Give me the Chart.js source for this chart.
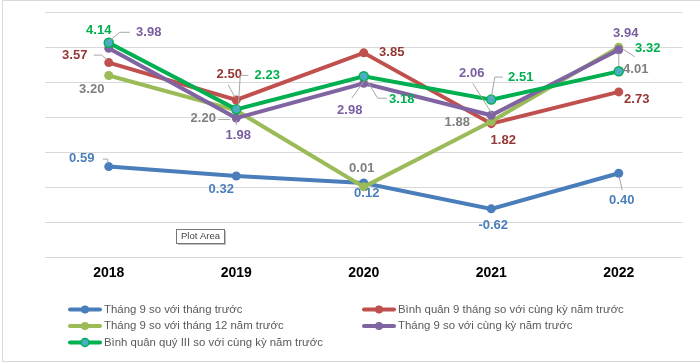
<!DOCTYPE html>
<html>
<head>
<meta charset="utf-8">
<script src="https://cdn.jsdelivr.net/npm/chart.js@4/dist/chart.umd.min.js"></script>
<style>
  html, body { margin: 0; padding: 0; background: #fff; }
</style>
</head>
<body>
<canvas id="cpiChart" width="700" height="363"></canvas>
<script>
// Du lieu
const years = ['2018', '2019', '2020', '2021', '2022'];
const thang9SoThangTruoc = [0.59, 0.32, 0.12, -0.62, 0.40];
const binhQuan9Thang = [3.57, 2.50, 3.85, 1.82, 2.73];
const thang9SoThang12 = [3.20, 2.20, 0.01, 1.88, 4.01];
const thang9SoCungKy = [3.98, 1.98, 2.98, 2.06, 3.94];
const binhQuanQuyIII = [4.14, 2.23, 3.18, 2.51, 3.32];
const yMin = -2, yMax = 5;

const FONT = "'Liberation Sans', Arial, sans-serif";

// vi tri nhan (dx, dy so voi diem) va duong dan
const offBlue = [[-27, -8], [-15, 13], [3, 10], [2, 17], [3, 27]];
const leadBlue = [[[-6, -7.5], [-1, -7.5], [-1, -3]], null, null, null, [[0.5, 4], [3.5, 17]]];
const offRed = [[-34, -7.5], [-7, -26], [28, 0], [12, 16.5], [18, 7]];
const leadRed = [[[-15, -7.5], [-7, -7.5], [-2, -3]], [[-8, -15], [-1, -2]], null, null, null];
const offLight = [[-17, 14], [-33, 8], [-2, -18.5], [-34, 0.5], [17, 22]];
const leadLight = [null, [[-18, 9], [-6, 9]], null, null, [[3, 1], [16, 9.5]]];
const offPurple = [[40, -16], [2, 17], [-14, 27], [-19.5, -42], [7, -16.5]];
const leadPurple = [[[1, -8], [11, -16], [21, -16]], [[0, 2], [0, 7]], [[1, -3], [-12, 15]], [[-18.5, -32], [0.5, -2]], null];
const offGreen = [[-10, -12], [31, -34], [38, 23], [29.5, -22.5], [29, -23]];
const leadGreen = [null, [[12, -34], [4, -34], [2, -2]], [[3, 4], [14, 22], [23, 22]], [[0, -1.5], [3.5, -22.5], [11.5, -22.5]], [[0, -5], [0, -18]]];

function series(label, data, color, labelColor, order, offsets, leaders, pointFill) {
  return {
    label, data,
    borderColor: color,
    backgroundColor: color,
    pointBackgroundColor: pointFill || color,
    pointBorderColor: color,
    pointBorderWidth: pointFill ? 1.5 : 0,
    pointRadius: 4.5,
    pointHoverRadius: 4.5,
    borderWidth: 4,
    tension: 0,
    fill: false,
    order,
    labelColor, labelOffsets: offsets, leaders
  };
}

const datasets = [
  series('Tháng 9 so với tháng trước', thang9SoThangTruoc, '#4a7ebb', '#4a7ebb', 4, offBlue, leadBlue),
  series('Bình quân 9 tháng so với cùng kỳ năm trước', binhQuan9Thang, '#c0504d', '#953735', 3, offRed, leadRed),
  series('Tháng 9 so với tháng 12 năm trước', thang9SoThang12, '#9bbb59', '#7f7f7f', 2, offLight, leadLight),
  series('Tháng 9 so với cùng kỳ năm trước', thang9SoCungKy, '#8064a2', '#7a5ea1', 1, offPurple, leadPurple),
  series('Bình quân quý III so với cùng kỳ năm trước', binhQuanQuyIII, '#00b050', '#00b050', 0, offGreen, leadGreen, '#4bacc6')
];

// khung ngoai
const frame = {
  id: 'frame',
  beforeDraw(chart) {
    const ctx = chart.ctx;
    ctx.save();
    ctx.fillStyle = '#fff';
    ctx.fillRect(0, 0, chart.width, chart.height);
    ctx.strokeStyle = '#d9d9d9';
    ctx.lineWidth = 1;
    ctx.strokeRect(2.5, 0.5, 710, 361);
    ctx.restore();
  }
};

// nhan so lieu
const dataLabels = {
  id: 'dataLabels',
  afterDatasetsDraw(chart) {
    const ctx = chart.ctx;
    ctx.save();
    chart.data.datasets.forEach((ds, i) => {
      const meta = chart.getDatasetMeta(i);
      meta.data.forEach((pt, j) => {
        const lead = ds.leaders[j];
        if (lead) {
          ctx.beginPath();
          ctx.strokeStyle = '#a6a6a6';
          ctx.lineWidth = 1;
          lead.forEach(([lx, ly], k) => {
            if (k === 0) ctx.moveTo(pt.x + lx, pt.y + ly);
            else ctx.lineTo(pt.x + lx, pt.y + ly);
          });
          ctx.stroke();
        }
        const [dx, dy] = ds.labelOffsets[j];
        ctx.font = 'bold 13px ' + FONT;
        ctx.fillStyle = ds.labelColor;
        ctx.textAlign = 'center';
        ctx.textBaseline = 'middle';
        ctx.fillText(ds.data[j].toFixed(2), pt.x + dx, pt.y + dy);
      });
    });
    ctx.restore();
  }
};

// chu giai 2 cot + o "Plot Area"
const legendGrid = {
  id: 'legendGrid',
  afterDraw(chart) {
    const ctx = chart.ctx;
    ctx.save();
    const colX = [68, 362];
    const rowY = [309.5, 326, 342.5];
    chart.data.datasets.forEach((ds, i) => {
      const x = colX[i % 2], y = rowY[Math.floor(i / 2)];
      ctx.strokeStyle = ds.borderColor;
      ctx.lineWidth = 4;
      ctx.lineCap = 'round';
      ctx.beginPath();
      ctx.moveTo(x + 2, y);
      ctx.lineTo(x + 32, y);
      ctx.stroke();
      ctx.beginPath();
      ctx.arc(x + 17, y, 4, 0, Math.PI * 2);
      ctx.fillStyle = ds.pointBackgroundColor;
      ctx.fill();
      if (ds.pointBorderWidth) {
        ctx.lineWidth = 1.5;
        ctx.stroke();
      }
      ctx.font = '11.4px ' + FONT;
      ctx.fillStyle = '#595959';
      ctx.textAlign = 'left';
      ctx.textBaseline = 'middle';
      ctx.fillText(ds.label, x + 36, y);
    });

    ctx.shadowColor = 'rgba(0,0,0,0.25)';
    ctx.shadowOffsetX = 2;
    ctx.shadowOffsetY = 2;
    ctx.fillStyle = '#fff';
    ctx.fillRect(176, 229, 48, 14);
    ctx.shadowColor = 'transparent';
    ctx.strokeStyle = '#767676';
    ctx.lineWidth = 1;
    ctx.strokeRect(176.5, 229.5, 48, 14);
    ctx.font = '9.5px ' + FONT;
    ctx.fillStyle = '#444';
    ctx.textAlign = 'center';
    ctx.textBaseline = 'middle';
    ctx.fillText('Plot Area', 200.5, 236.5);
    ctx.restore();
  }
};

new Chart(document.getElementById('cpiChart'), {
  type: 'line',
  data: { labels: years, datasets },
  options: {
    responsive: false,
    animation: false,
    layout: { padding: { left: 45, right: 17.5, top: 12.7, bottom: 73.2 } },
    plugins: {
      legend: { display: false },
      tooltip: { enabled: false }
    },
    scales: {
      x: {
        offset: true,
        grid: { display: false, drawTicks: false },
        border: { display: false },
        ticks: { color: '#000', padding: 8, font: { family: FONT, size: 14, weight: 'bold' } }
      },
      y: {
        min: yMin,
        max: yMax,
        ticks: { stepSize: 1, display: false },
        grid: { color: '#d9d9d9', lineWidth: 1, drawTicks: false },
        border: { display: false }
      }
    }
  },
  plugins: [frame, dataLabels, legendGrid]
});
</script>
</body>
</html>
